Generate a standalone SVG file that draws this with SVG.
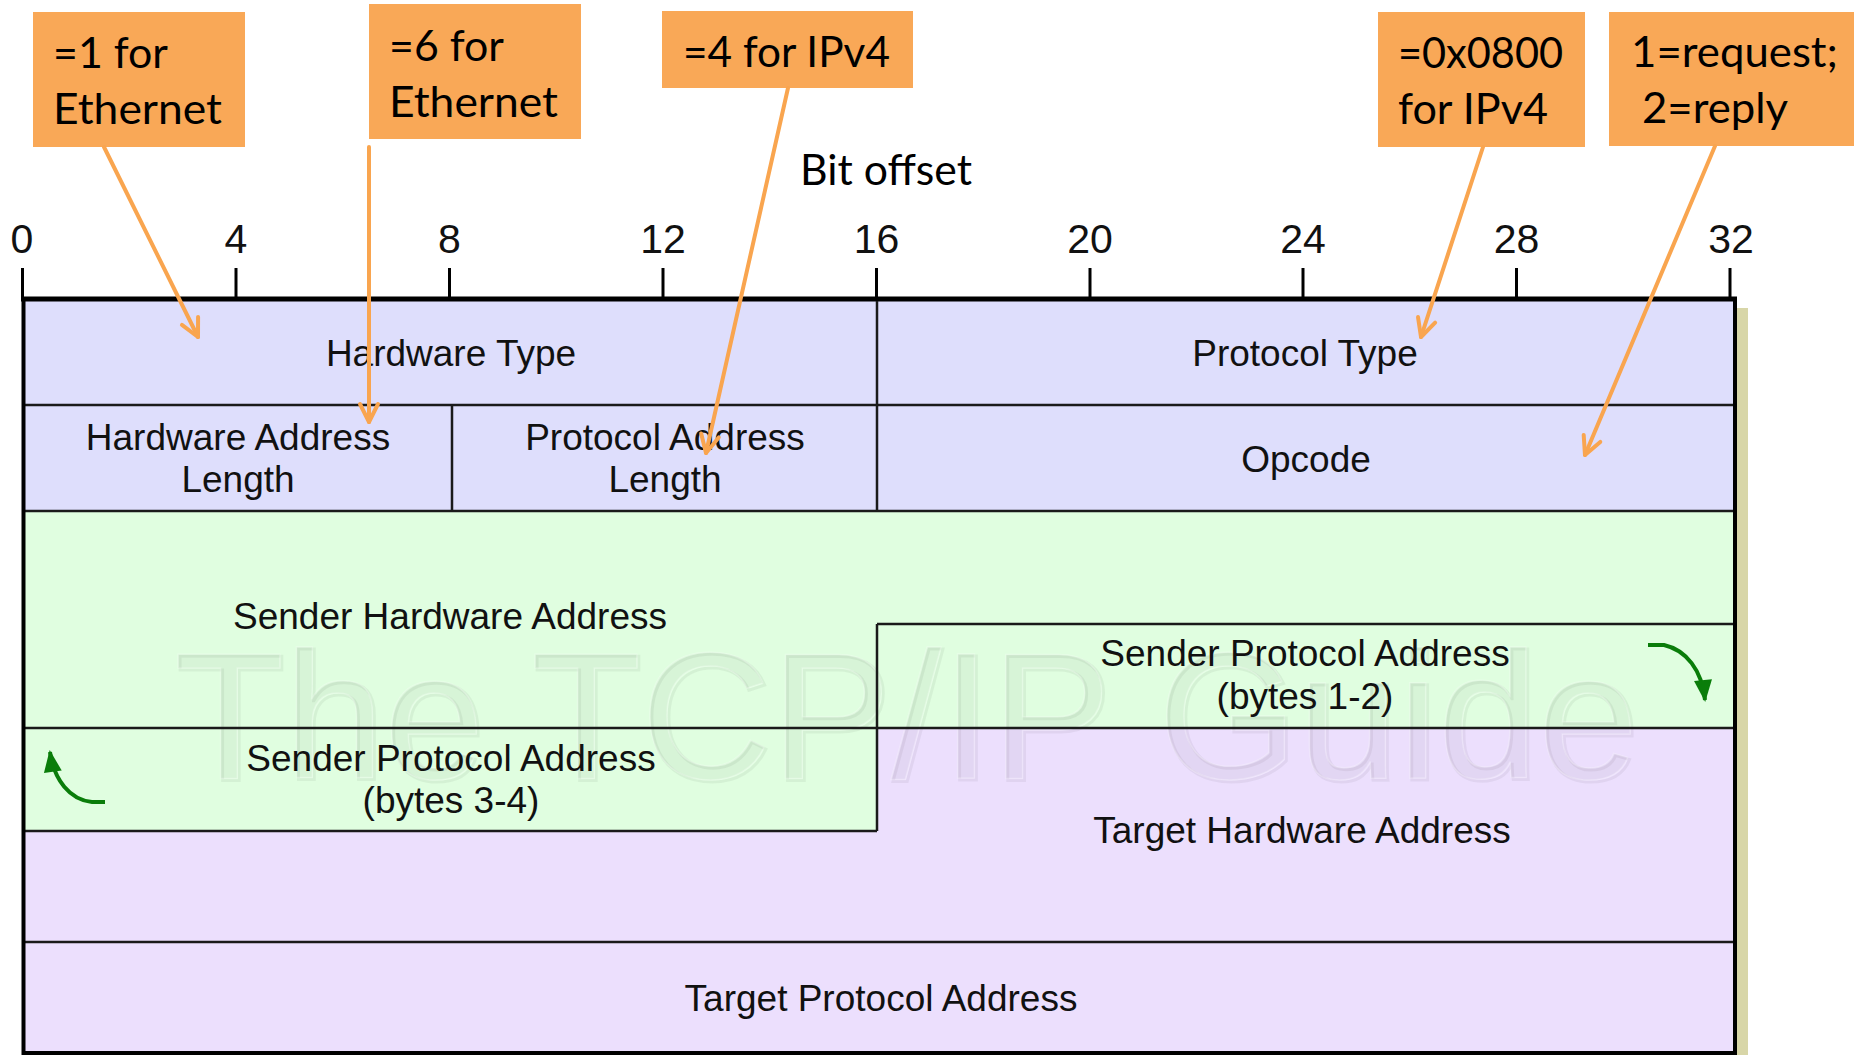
<svg xmlns="http://www.w3.org/2000/svg" width="1854" height="1055" viewBox="0 0 1854 1055">
  <style>
    .field { font-family: "Liberation Sans", Arial, sans-serif; font-size: 37px; fill: #111; text-anchor: middle; }
    .tick-label { font-family: "Liberation Sans", Arial, sans-serif; font-size: 41px; fill: #111; text-anchor: middle; }
    .note { font-family: Lato, "Open Sans", sans-serif; font-size: 43px; fill: #000; }
    .note-box { fill: #f9a857; }
    .grid { stroke: #1a1a1a; stroke-width: 2.5; fill: none; }
    .frame { stroke: #000; stroke-width: 4; fill: none; }
    .tick { stroke: #000; stroke-width: 3; }
    .callout { stroke: #f9a54f; stroke-width: 4; fill: none; stroke-linecap: round; }
    .swap { stroke: #0a7d0a; stroke-width: 4; fill: none; }
  </style>
  <defs>
    <marker id="open-arrow" markerUnits="userSpaceOnUse" viewBox="0 0 24 24" markerWidth="24" markerHeight="24" refX="21" refY="12" orient="auto" overflow="visible">
      <path d="M3,3 L21,12 L3,21" fill="none" stroke="#f9a54f" stroke-width="4" stroke-linecap="round" stroke-linejoin="round"/>
    </marker>
    <marker id="green-head" markerUnits="userSpaceOnUse" viewBox="0 0 22 18" markerWidth="22" markerHeight="18" refX="20" refY="9" orient="auto" overflow="visible">
      <path d="M0,0 L22,9 L0,18 z" fill="#0a7d0a"/>
    </marker>
  </defs>

  <rect width="1854" height="1055" fill="#fff"/>

  <!-- drop shadow on the right edge of the packet table -->
  <rect x="1737" y="308" width="11" height="747" fill="#d8d6a8"/>

  <!-- field background bands -->
  <g id="backgrounds">
    <rect x="23.5" y="299" width="1711.5" height="212" fill="#dedefc"/>
    <path d="M23.5,511 H1735 V728 H877 V831 H23.5 Z" fill="#e0fee0"/>
    <path d="M877,728 H1735 V1053 H23.5 V831 H877 Z" fill="#ecdffd"/>
  </g>

  <!-- faint embossed watermark -->
  <g id="watermark" font-family="Liberation Sans, Arial, sans-serif" font-size="180">
    <text x="176" y="780" textLength="1464" lengthAdjust="spacingAndGlyphs" fill="none" stroke="#000" stroke-opacity="0.05" stroke-width="3">The TCP/IP Guide</text>
    <text x="174" y="778" textLength="1464" lengthAdjust="spacingAndGlyphs" fill="#000" fill-opacity="0.04" stroke="#fff" stroke-opacity="0.25" stroke-width="1.5">The TCP/IP Guide</text>
  </g>

  <!-- bit offset ruler -->
  <g id="ruler">
    <text class="note" x="800" y="185" textLength="172" lengthAdjust="spacingAndGlyphs">Bit offset</text>
    <line x1="21" y1="299" x2="1737" y2="299" stroke="#000" stroke-width="5"/>
    <g class="tick">
      <line x1="22.5" y1="268" x2="22.5" y2="299"/>
      <line x1="236" y1="268" x2="236" y2="299"/>
      <line x1="449.5" y1="268" x2="449.5" y2="299"/>
      <line x1="663" y1="268" x2="663" y2="299"/>
      <line x1="876.5" y1="268" x2="876.5" y2="299"/>
      <line x1="1090" y1="268" x2="1090" y2="299"/>
      <line x1="1303" y1="268" x2="1303" y2="299"/>
      <line x1="1516.5" y1="268" x2="1516.5" y2="299"/>
      <line x1="1730" y1="268" x2="1730" y2="299"/>
    </g>
    <text class="tick-label" x="22" y="253">0</text>
    <text class="tick-label" x="236" y="253">4</text>
    <text class="tick-label" x="449.5" y="253">8</text>
    <text class="tick-label" x="663" y="253">12</text>
    <text class="tick-label" x="876.5" y="253">16</text>
    <text class="tick-label" x="1090" y="253">20</text>
    <text class="tick-label" x="1303" y="253">24</text>
    <text class="tick-label" x="1516.5" y="253">28</text>
    <text class="tick-label" x="1731" y="253">32</text>
  </g>

  <!-- packet field grid -->
  <g id="grid">
    <path class="grid" d="M23.5,405 H1735 M23.5,511 H1735 M877,624 H1735 M23.5,728 H1735 M23.5,831 H877 M23.5,942 H1735"/>
    <path class="grid" d="M877,299 V511 M452,405 V511 M877,624 V831"/>
    <rect class="frame" x="23.5" y="299" width="1711.5" height="754"/>
  </g>

  <!-- fields -->
  <g id="hardware-type"><text class="field" x="451" y="366">Hardware Type</text></g>
  <g id="protocol-type"><text class="field" x="1305" y="366">Protocol Type</text></g>
  <g id="hardware-address-length">
    <text class="field" x="238" y="450">Hardware Address</text>
    <text class="field" x="238" y="492">Length</text>
  </g>
  <g id="protocol-address-length">
    <text class="field" x="665" y="450">Protocol Address</text>
    <text class="field" x="665" y="492">Length</text>
  </g>
  <g id="opcode"><text class="field" x="1306" y="472">Opcode</text></g>
  <g id="sender-hardware-address"><text class="field" x="450" y="629">Sender Hardware Address</text></g>
  <g id="sender-protocol-address-1-2">
    <text class="field" x="1305" y="666">Sender Protocol Address</text>
    <text class="field" x="1305" y="709">(bytes 1-2)</text>
  </g>
  <g id="sender-protocol-address-3-4">
    <text class="field" x="451" y="771">Sender Protocol Address</text>
    <text class="field" x="451" y="813">(bytes 3-4)</text>
  </g>
  <g id="target-hardware-address"><text class="field" x="1302" y="843">Target Hardware Address</text></g>
  <g id="target-protocol-address"><text class="field" x="881" y="1011">Target Protocol Address</text></g>

  <!-- value callouts -->
  <g id="note-hw-type">
    <rect class="note-box" x="33" y="12" width="212" height="135"/>
    <text class="note" x="53" y="68" textLength="115" lengthAdjust="spacingAndGlyphs">=1 for</text>
    <text class="note" x="53" y="124" textLength="169" lengthAdjust="spacingAndGlyphs">Ethernet</text>
  </g>
  <g id="note-hw-len">
    <rect class="note-box" x="369" y="4" width="212" height="135"/>
    <text class="note" x="389" y="61" textLength="115" lengthAdjust="spacingAndGlyphs">=6 for</text>
    <text class="note" x="389" y="117" textLength="169" lengthAdjust="spacingAndGlyphs">Ethernet</text>
  </g>
  <g id="note-proto-len">
    <rect class="note-box" x="662" y="11" width="251" height="77"/>
    <text class="note" x="683" y="67" textLength="207" lengthAdjust="spacingAndGlyphs">=4 for IPv4</text>
  </g>
  <g id="note-proto-type">
    <rect class="note-box" x="1378" y="12" width="207" height="135"/>
    <text class="note" x="1398" y="68" textLength="165" lengthAdjust="spacingAndGlyphs">=0x0800</text>
    <text class="note" x="1398" y="124" textLength="150" lengthAdjust="spacingAndGlyphs">for IPv4</text>
  </g>
  <g id="note-opcode">
    <rect class="note-box" x="1609" y="12" width="245" height="134"/>
    <text class="note" x="1631" y="67" textLength="207" lengthAdjust="spacingAndGlyphs">1=request;</text>
    <text class="note" x="1642" y="123" textLength="146" lengthAdjust="spacingAndGlyphs">2=reply</text>
  </g>

  <!-- connectors -->
  <g id="connectors">
    <line class="callout" x1="104" y1="147" x2="198" y2="337" marker-end="url(#open-arrow)"/>
    <line class="callout" x1="369" y1="147" x2="369" y2="422" marker-end="url(#open-arrow)"/>
    <line class="callout" x1="788" y1="88" x2="706" y2="453" marker-end="url(#open-arrow)"/>
    <line class="callout" x1="1483" y1="147" x2="1421" y2="337" marker-end="url(#open-arrow)"/>
    <line class="callout" x1="1715" y1="146" x2="1585" y2="455" marker-end="url(#open-arrow)"/>
    <path class="swap" d="M1648,645 L1664,645 C1686,650 1702,670 1705,700" marker-end="url(#green-head)"/>
    <path class="swap" d="M105,802 L92,802 C70,800 54,780 50,752" marker-end="url(#green-head)"/>
  </g>
</svg>
